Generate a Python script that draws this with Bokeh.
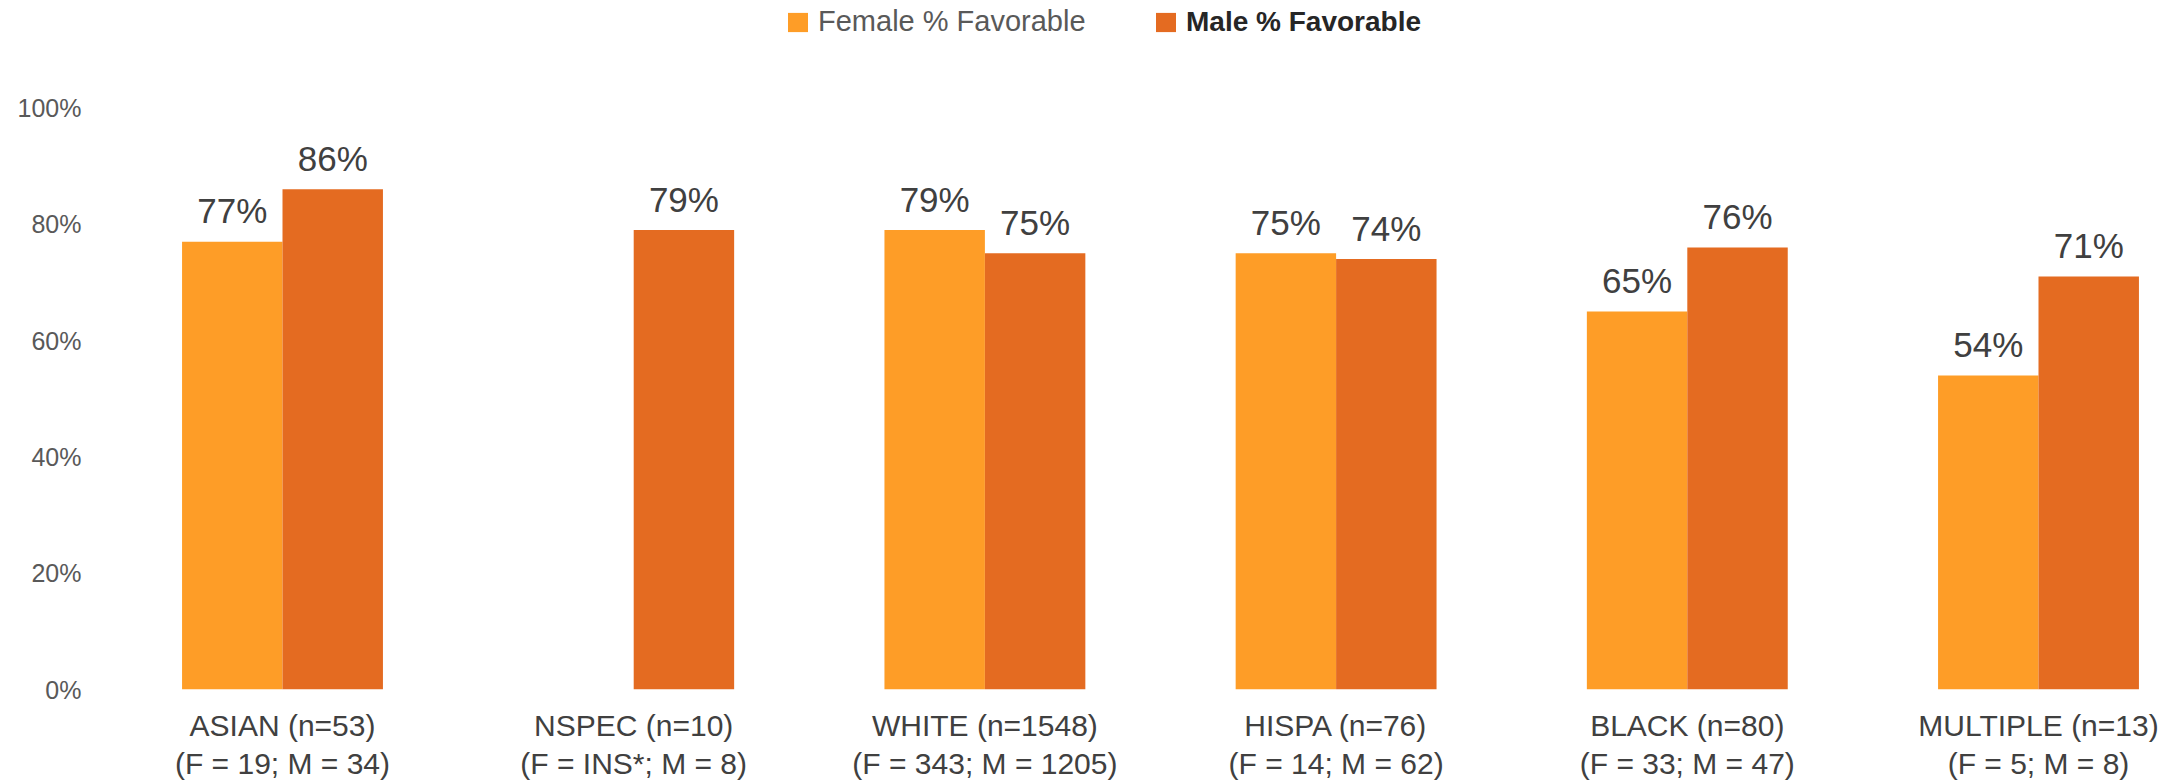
import numpy as np
from bokeh.plotting import figure
from bokeh.models import ColumnDataSource, Range1d, FixedTicker, Legend, LegendItem
from bokeh.core.properties import value
from bokeh.embed import file_html
from bokeh.resources import INLINE

# ---- data ----
categories = ["ASIAN (n=53)\n(F = 19; M = 34)",
              "NSPEC (n=10)\n(F = INS*; M = 8)",
              "WHITE (n=1548)\n(F = 343; M = 1205)",
              "HISPA (n=76)\n(F = 14; M = 62)",
              "BLACK (n=80)\n(F = 33; M = 47)",
              "MULTIPLE (n=13)\n(F = 5; M = 8)"]
female_fav = [77, None, 79, 75, 65, 54]
male_fav = [86, 79, 75, 74, 76, 71]
series_names = ["Female % Favorable", "Male % Favorable"]
y_ticks = [0, 20, 40, 60, 80, 100]
y_tick_labels = ["0%", "20%", "40%", "60%", "80%", "100%"]

FEMALE_C = "#FE9D27"
MALE_C = "#E46B21"
FONT = "Liberation Sans"

idx = np.arange(len(categories))
bar_w = 0.286

def pack(vals, shift):
    xs, ys, ts = [], [], []
    for i, v in zip(idx, vals):
        if v is None:
            continue
        xs.append(i + shift)
        ys.append(v)
        ts.append(f"{v:.0f}%")
    return ColumnDataSource(dict(x=xs, top=ys, lab=ts))

src_f = pack(female_fav, -bar_w / 2)
src_m = pack(male_fav, bar_w / 2)

# ---- layout (pixels) ----
W, H = 2170, 783
left, right, top = 96, 10, 0
frame_bottom_px = 693
bottom = H - frame_bottom_px
frame_w = W - left - right
frame_h = H - top - bottom
cat_px = 351.2
center0_px = 282
x_start = -(center0_px - left) / cat_px
x_end = x_start + frame_w / cat_px
px_per_pct = 5.85
y_end = frame_h / px_per_pct

p = figure(width=W, height=H, output_backend="svg", toolbar_location=None,
           title=None,
           x_range=Range1d(x_start, x_end), y_range=Range1d(0, y_end),
           min_border_left=left, min_border_right=right,
           min_border_top=top, min_border_bottom=bottom)
p.outline_line_color = None
p.xgrid.visible = False
p.ygrid.visible = False
p.background_fill_color = "white"
p.border_fill_color = "white"

rf = p.vbar(x="x", top="top", width=bar_w, bottom=0, source=src_f,
            fill_color=FEMALE_C, line_color=None)
rm = p.vbar(x="x", top="top", width=bar_w, bottom=0, source=src_m,
            fill_color=MALE_C, line_color=None)

for s in (src_f, src_m):
    p.text(x="x", y="top", text="lab", source=s, text_align="center",
           text_baseline="alphabetic", y_offset=-31,
           text_font_size="35px", text_color="#404040", text_font=value(FONT))

# axes
p.yaxis.ticker = FixedTicker(ticks=y_ticks)
p.yaxis.major_label_overrides = {t: l for t, l in zip(y_ticks, y_tick_labels)}
p.yaxis.axis_line_color = None
p.yaxis.major_tick_line_color = None
p.yaxis.minor_tick_line_color = None
p.yaxis.major_tick_out = 0
p.yaxis.major_tick_in = 0
p.yaxis.major_label_standoff = 15
p.yaxis.major_label_text_font_size = "25px"
p.yaxis.major_label_text_color = "#595959"
p.yaxis.major_label_text_font = FONT

p.xaxis.ticker = FixedTicker(ticks=list(idx))
p.xaxis.major_label_overrides = {int(i): c for i, c in zip(idx, categories)}
p.xaxis.axis_line_color = None
p.xaxis.major_tick_line_color = None
p.xaxis.minor_tick_line_color = None
p.xaxis.major_tick_out = 0
p.xaxis.major_tick_in = 0
p.xaxis.major_label_standoff = 19
p.xaxis.major_label_text_font_size = "30px"
p.xaxis.major_label_text_color = "#404040"
p.xaxis.major_label_text_font = FONT
p.xaxis.major_label_text_line_height = 1.18

# legends (two, so that the male label can be bold)
def make_legend(name, rend, loc, style, color, size):
    lg = Legend(items=[LegendItem(label=name, renderers=[rend])],
                location=loc, orientation="horizontal",
                glyph_width=25, glyph_height=24, label_standoff=8,
                label_text_font_size=size, label_text_font=FONT,
                label_text_font_style=style, label_text_color=color,
                padding=0, margin=0, border_line_color=None,
                background_fill_alpha=0)
    p.add_layout(lg, "center")

leg_bottom_px = 42
leg_y = frame_h - (leg_bottom_px - top)
make_legend(series_names[0], rf, (785 - left, leg_y), "normal", "#595959", "29px")
make_legend(series_names[1], rm, (1153 - left, leg_y), "bold", "#262626", "28px")

open("out.html", "w").write(file_html(p, INLINE))
